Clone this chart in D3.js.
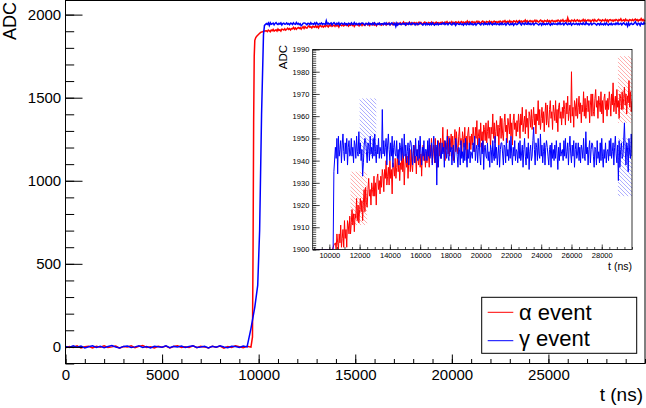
<!DOCTYPE html>
<html>
<head>
<meta charset="utf-8">
<script src="https://cdn.jsdelivr.net/npm/d3@7"></script>
<style>
  body { margin: 0; background: #fff; }
  text { font-family: "Liberation Sans", Arial, Helvetica, sans-serif; }
</style>
</head>
<body>
<svg id="chart" width="646" height="408"></svg>
<script>

// ---- data ----

// baseline before the pulse, one sample every 200 ns starting at 0
var baseStep = 200;
var blueBase = [3, -4, 6, -2, 5, -6, 1, 7, -3, 4, -5, 2, 8, -1, -6, 3, 5, -4, 0, 6,
                -3, 2, -7, 4, 1, -2, 6, -5, 3, -1, 5, -4, 2, 7, -3, 0, 4, -6, 3, -2,
                6, -1, -5, 4, 2, -3, 5, 0];
var redBase = [-5, 2, -3, 6, -7, 1, 4, -6, 3, -2, 7, -4, 0, 5, -8, 2, -1, 6, -5, 3,
               8, -3, 1, -6, 4, -2, 5, -7, 2, 6, -4, 1, -3, 7, -5, 3, 0, -6, 4, -2,
               5, -8, 2, -3, 6, 1, -5, 3, -2];

// rising edge
var blueRiseT = [9600, 9800, 9950, 10050, 10150, 10250, 10300];
var blueRiseV = [110, 240, 370, 700, 1400, 1880, 1935];
var redRiseT = [9680, 9710, 9740, 9770, 9800, 9850, 9900, 10000, 10100, 10200, 10300];
var redRiseV = [60, 600, 1350, 1750, 1845, 1862, 1870, 1882, 1893, 1897, 1902];

// plateau, one sample every 50 ns from 10400 to 30000 (20 per row = 1000 ns)
var plateauStart = 10400, plateauStep = 50;
var redPlateau = [
  1903, 1898, 1907, 1903, 1897, 1907, 1903, 1911, 1901, 1905, 1909, 1901, 1913, 1905, 1909, 1901, 1913, 1911, 1907, 1915,
  1907, 1912, 1918, 1911, 1916, 1908, 1916, 1914, 1923, 1913, 1920, 1912, 1918, 1923, 1917, 1922, 1913, 1921, 1927, 1917,
  1928, 1921, 1919, 1927, 1932, 1924, 1927, 1920, 1930, 1927, 1924, 1933, 1924, 1930, 1920, 1932, 1934, 1927, 1931, 1925,
  1933, 1928, 1936, 1933, 1926, 1936, 1932, 1940, 1929, 1933, 1937, 1929, 1940, 1932, 1936, 1925, 1939, 1937, 1933, 1941,
  1932, 1937, 1942, 1935, 1940, 1931, 1939, 1936, 1946, 1935, 1942, 1929, 1938, 1943, 1937, 1942, 1932, 1940, 1945, 1935,
  1945, 1938, 1935, 1943, 1947, 1939, 1942, 1934, 1945, 1942, 1938, 1947, 1937, 1943, 1933, 1944, 1947, 1940, 1943, 1937,
  1944, 1939, 1947, 1943, 1937, 1947, 1942, 1950, 1939, 1943, 1947, 1939, 1950, 1942, 1946, 1937, 1949, 1947, 1942, 1950,
  1941, 1946, 1955, 1944, 1949, 1940, 1948, 1945, 1954, 1943, 1951, 1942, 1947, 1952, 1945, 1951, 1940, 1949, 1954, 1944,
  1953, 1946, 1943, 1951, 1955, 1947, 1950, 1942, 1953, 1950, 1946, 1955, 1945, 1951, 1941, 1952, 1955, 1948, 1951, 1945,
  1952, 1947, 1955, 1951, 1944, 1955, 1950, 1958, 1947, 1951, 1954, 1946, 1957, 1949, 1953, 1944, 1956, 1954, 1949, 1957,
  1948, 1953, 1958, 1950, 1955, 1946, 1955, 1952, 1961, 1950, 1957, 1948, 1953, 1958, 1951, 1956, 1947, 1955, 1960, 1950,
  1959, 1952, 1949, 1957, 1961, 1953, 1956, 1948, 1959, 1956, 1952, 1961, 1951, 1957, 1947, 1958, 1961, 1954, 1957, 1951,
  1958, 1953, 1961, 1957, 1950, 1961, 1956, 1964, 1953, 1957, 1960, 1952, 1963, 1955, 1959, 1950, 1962, 1960, 1955, 1963,
  1954, 1959, 1964, 1956, 1961, 1952, 1961, 1958, 1967, 1956, 1963, 1954, 1959, 1964, 1957, 1962, 1953, 1961, 1966, 1956,
  1965, 1958, 1955, 1963, 1967, 1959, 1962, 1954, 1965, 1962, 1958, 1967, 1957, 1963, 1953, 1964, 1966, 1959, 1962, 1956,
  1964, 1959, 1967, 1963, 1956, 1966, 1961, 1969, 1958, 1962, 1965, 1957, 1980, 1960, 1964, 1955, 1967, 1965, 1960, 1968,
  1959, 1964, 1969, 1961, 1966, 1957, 1965, 1962, 1971, 1960, 1968, 1959, 1964, 1969, 1962, 1967, 1957, 1965, 1970, 1960,
  1970, 1962, 1960, 1968, 1972, 1964, 1967, 1959, 1969, 1966, 1962, 1971, 1961, 1967, 1957, 1968, 1970, 1963, 1967, 1960,
  1968, 1963, 1971, 1967, 1960, 1970, 1965, 1975, 1962, 1966, 1969, 1961, 1972, 1964, 1967, 1959, 1970, 1968, 1963, 1971,
  1963, 1968, 1973, 1965, 1970, 1961, 1969, 1966, 1976, 1964, 1971, 1962, 1967];
var bluePlateau = [
  1946, 1941, 1950, 1934, 1951, 1942, 1945, 1949, 1939, 1947, 1952, 1944, 1940, 1948, 1943, 1950, 1938, 1946, 1949, 1942,
  1943, 1950, 1942, 1946, 1939, 1949, 1947, 1941, 1951, 1944, 1942, 1953, 1943, 1948, 1940, 1945, 1933, 1939, 1947, 1950,
  1949, 1944, 1939, 1948, 1947, 1940, 1951, 1943, 1946, 1941, 1950, 1942, 1952, 1944, 1939, 1947, 1943, 1950, 1941, 1946,
  1944, 1941, 1963, 1943, 1949, 1942, 1946, 1950, 1938, 1947, 1952, 1945, 1940, 1948, 1942, 1951, 1937, 1946, 1949, 1943,
  1942, 1949, 1941, 1945, 1938, 1948, 1946, 1940, 1950, 1943, 1941, 1952, 1942, 1947, 1939, 1944, 1948, 1938, 1946, 1949,
  1948, 1943, 1938, 1947, 1946, 1939, 1950, 1942, 1945, 1940, 1949, 1941, 1951, 1943, 1938, 1946, 1942, 1949, 1940, 1945,
  1945, 1940, 1949, 1942, 1950, 1941, 1944, 1948, 1938, 1946, 1951, 1943, 1939, 1947, 1929, 1949, 1937, 1945, 1948, 1941,
  1941, 1948, 1943, 1946, 1937, 1949, 1945, 1941, 1951, 1942, 1940, 1950, 1944, 1946, 1938, 1945, 1947, 1939, 1944, 1950,
  1947, 1942, 1937, 1946, 1945, 1938, 1949, 1941, 1944, 1939, 1948, 1940, 1950, 1942, 1937, 1945, 1941, 1948, 1939, 1944,
  1943, 1941, 1948, 1944, 1951, 1940, 1945, 1947, 1939, 1946, 1950, 1942, 1938, 1948, 1943, 1949, 1936, 1946, 1947, 1942,
  1941, 1948, 1940, 1944, 1937, 1947, 1945, 1939, 1949, 1942, 1940, 1951, 1941, 1946, 1938, 1943, 1947, 1937, 1945, 1948,
  1948, 1943, 1938, 1947, 1946, 1939, 1950, 1942, 1945, 1940, 1949, 1941, 1951, 1943, 1938, 1946, 1942, 1949, 1940, 1945,
  1944, 1939, 1948, 1941, 1949, 1940, 1943, 1947, 1937, 1945, 1950, 1942, 1938, 1946, 1941, 1948, 1936, 1944, 1947, 1940,
  1942, 1949, 1955, 1945, 1938, 1948, 1946, 1940, 1950, 1943, 1941, 1952, 1942, 1947, 1939, 1944, 1948, 1938, 1946, 1949,
  1946, 1942, 1938, 1945, 1947, 1937, 1948, 1941, 1945, 1940, 1947, 1941, 1949, 1943, 1936, 1946, 1940, 1948, 1942, 1944,
  1945, 1940, 1949, 1942, 1950, 1941, 1944, 1948, 1938, 1946, 1951, 1943, 1939, 1947, 1942, 1949, 1937, 1945, 1948, 1941,
  1943, 1948, 1940, 1946, 1939, 1947, 1945, 1941, 1950, 1942, 1940, 1953, 1943, 1946, 1938, 1945, 1949, 1939, 1945, 1948,
  1947, 1942, 1937, 1946, 1945, 1938, 1949, 1941, 1944, 1939, 1948, 1940, 1950, 1942, 1937, 1945, 1941, 1948, 1939, 1944,
  1945, 1940, 1949, 1942, 1950, 1941, 1944, 1948, 1938, 1946, 1951, 1943, 1939, 1947, 1931, 1949, 1937, 1945, 1948, 1941,
  1942, 1949, 1957, 1945, 1938, 1948, 1946, 1935, 1950, 1943, 1941, 1952, 1942];

// hatched bands in the zoomed panel
var bandT0 = [12000, 11400, 29070, 29070];
var bandT1 = [13100, 12500, 30000, 30000];
var bandLo = [1942, 1911, 1957, 1924];
var bandHi = [1968, 1935, 1987, 1950];
var bandCol = ["blue", "red", "red", "blue"];

var legendLabels = ["\u03b1 event", "\u03b3 event"];
var mainXTicks = [0, 5000, 10000, 15000, 20000, 25000];
var mainYTicks = [0, 500, 1000, 1500, 2000];
var insetXTicks = [10000, 12000, 14000, 16000, 18000, 20000, 22000, 24000, 26000, 28000];
var insetYTicks = [1900, 1910, 1920, 1930, 1940, 1950, 1960, 1970, 1980, 1990];

// ---- build the series ----
function buildSeries(base, riseT, riseV, plateau) {
    let pts = [];
    base.forEach((v, i) => pts.push([i * baseStep, v]));
    riseT.forEach((t, i) => pts.push([t, riseV[i]]));
    plateau.forEach((v, i) => pts.push([plateauStart + i * plateauStep, v]));
    return pts;
}
var redSeries = buildSeries(redBase, redRiseT, redRiseV, redPlateau);
var blueSeries = buildSeries(blueBase, blueRiseT, blueRiseV, bluePlateau);

var RED = "#ff0000", BLUE = "#0000ff";

let svg = d3.select("#chart");
let defs = svg.append("defs");

function makeHatch(id, col) {
    let p = defs.append("pattern")
        .attr("id", id)
        .attr("patternUnits", "userSpaceOnUse")
        .attr("width", 4).attr("height", 4);
    p.append("path")
        .attr("d", "M-1,3 l2,2 M0,0 l4,4 M3,-1 l2,2")
        .style("stroke", col)
        .style("stroke-width", 0.7);
}
makeHatch("hatch-red", "rgba(255,0,0,0.45)");
makeHatch("hatch-blue", "rgba(0,0,255,0.45)");

// ---- main panel ----
let x = d3.scaleLinear().domain([0, 30000]).range([65.5, 645]);
let y = d3.scaleLinear().domain([-100, 2085]).range([363.5, 0.5]);

let line = d3.line().x(d => x(d[0])).y(d => y(d[1]));

let main = svg.append("g");

main.append("path").datum(redSeries)
    .attr("d", line)
    .style("fill", "none").style("stroke", RED).style("stroke-width", 1.5);
main.append("path").datum(blueSeries)
    .attr("d", line)
    .style("fill", "none").style("stroke", BLUE).style("stroke-width", 1.5);

// minor ticks
main.append("g")
    .attr("transform", "translate(0,363.5)")
    .call(d3.axisBottom(x).tickValues(d3.range(0, 30001, 1000)).tickSizeInner(-4.5).tickSizeOuter(0).tickFormat(""))
    .call(g => g.select(".domain").remove());
main.append("g")
    .attr("transform", "translate(65.5,0)")
    .call(d3.axisLeft(y).tickValues(d3.range(-100, 2001, 100)).tickSizeInner(-8.7).tickSizeOuter(0).tickFormat(""))
    .call(g => g.select(".domain").remove());

// major ticks + labels
main.append("g")
    .attr("transform", "translate(0,363.5)")
    .call(d3.axisBottom(x).tickValues(mainXTicks).tickSizeInner(-9).tickSizeOuter(0).tickPadding(6.3).tickFormat(d3.format("d")))
    .call(g => g.select(".domain").remove())
    .call(g => g.selectAll("text").style("font-size", "15px").style("fill", "#000"));
main.append("g")
    .attr("transform", "translate(65.5,0)")
    .call(d3.axisLeft(y).tickValues(mainYTicks).tickSizeInner(-17).tickSizeOuter(0).tickPadding(4.3).tickFormat(d3.format("d")))
    .call(g => g.select(".domain").remove())
    .call(g => g.selectAll("text").style("font-size", "15px").style("fill", "#000"));

main.selectAll(".tick line").style("stroke", "#000");

main.append("rect")
    .attr("x", 65.5).attr("y", 0.5)
    .attr("width", 645 - 65.5).attr("height", 363)
    .style("fill", "none").style("stroke", "#000").style("stroke-width", 1);

main.append("text")
    .attr("transform", "translate(16,2) rotate(-90)")
    .attr("text-anchor", "end")
    .style("font-size", "18px")
    .text("ADC");
main.append("text")
    .attr("x", 643).attr("y", 401)
    .attr("text-anchor", "end")
    .style("font-size", "19px")
    .text("t (ns)");

// ---- inset panel ----
let xi = d3.scaleLinear().domain([8900, 30000]).range([312.7, 632]);
let yi = d3.scaleLinear().domain([1900, 1990]).range([249.5, 49.5]).clamp(true);

let inset = svg.append("g");

defs.append("clipPath").attr("id", "inset-clip")
    .append("rect")
    .attr("x", 312.7).attr("y", 49.5)
    .attr("width", 632 - 312.7).attr("height", 200);

inset.append("rect")
    .attr("x", 312.7).attr("y", 49.5)
    .attr("width", 632 - 312.7).attr("height", 200)
    .style("fill", "#fff");

let plotI = inset.append("g").attr("clip-path", "url(#inset-clip)");

plotI.selectAll("rect.band")
    .data(bandT0.map((t, i) => [t, bandT1[i], bandLo[i], bandHi[i], bandCol[i]]))
    .enter().append("rect")
    .attr("class", "band")
    .attr("x", d => xi(d[0]))
    .attr("y", d => yi(d[3]))
    .attr("width", d => xi(d[1]) - xi(d[0]))
    .attr("height", d => yi(d[2]) - yi(d[3]))
    .style("fill", d => "url(#hatch-" + d[4] + ")");

let lineI = d3.line().x(d => xi(d[0])).y(d => yi(d[1]));

plotI.append("path").datum(redSeries.filter(d => d[0] >= 8000))
    .attr("d", lineI)
    .style("fill", "none").style("stroke", RED).style("stroke-width", 1);
plotI.append("path").datum(blueSeries.filter(d => d[0] >= 8000))
    .attr("d", lineI)
    .style("fill", "none").style("stroke", BLUE).style("stroke-width", 1);

inset.append("g")
    .attr("transform", "translate(0,249.5)")
    .call(d3.axisBottom(xi).tickValues(d3.range(9000, 30001, 500)).tickSizeInner(-2.5).tickSizeOuter(0).tickFormat(""))
    .call(g => g.select(".domain").remove());
inset.append("g")
    .attr("transform", "translate(312.7,0)")
    .call(d3.axisLeft(yi).tickValues(d3.range(1900, 1991, 1)).tickSizeInner(-3.5).tickSizeOuter(0).tickFormat(""))
    .call(g => g.select(".domain").remove());

inset.append("g")
    .attr("transform", "translate(0,249.5)")
    .call(d3.axisBottom(xi).tickValues(insetXTicks).tickSizeInner(-5).tickSizeOuter(0).tickPadding(3.5).tickFormat(d3.format("d")))
    .call(g => g.select(".domain").remove())
    .call(g => g.selectAll("text").style("font-size", "7.5px").style("fill", "#000"));
inset.append("g")
    .attr("transform", "translate(312.7,0)")
    .call(d3.axisLeft(yi).tickValues(insetYTicks).tickSizeInner(-7).tickSizeOuter(0).tickPadding(3.4).tickFormat(d3.format("d")))
    .call(g => g.select(".domain").remove())
    .call(g => g.selectAll("text").style("font-size", "7.5px").style("fill", "#000"));

inset.selectAll(".tick line").style("stroke", "#000").style("stroke-width", 0.7);

inset.append("rect")
    .attr("x", 312.7).attr("y", 49.5)
    .attr("width", 632 - 312.7).attr("height", 200)
    .style("fill", "none").style("stroke", "#000").style("stroke-width", 0.8);

inset.append("text")
    .attr("transform", "translate(287,45) rotate(-90)")
    .attr("text-anchor", "end")
    .style("font-size", "11.5px")
    .text("ADC");
inset.append("text")
    .attr("x", 632).attr("y", 270)
    .attr("text-anchor", "end")
    .style("font-size", "10.5px")
    .text("t (ns)");

// ---- legend ----
let legend = svg.append("g");
legend.append("rect")
    .attr("x", 481.7).attr("y", 297.3)
    .attr("width", 155).attr("height", 56)
    .style("fill", "#fff").style("stroke", "#000").style("stroke-width", 1);

let legY = [312.3, 340.7];
let legBase = [319.5, 346];
let legCol = [RED, BLUE];
legendLabels.forEach((lab, i) => {
    legend.append("line")
        .attr("x1", 487.7).attr("x2", 513.3)
        .attr("y1", legY[i]).attr("y2", legY[i])
        .style("stroke", legCol[i]).style("stroke-width", 1);
    legend.append("text")
        .attr("x", 519).attr("y", legBase[i])
        .style("font-size", "22px")
        .text(lab);
});

</script>
</body>
</html>
